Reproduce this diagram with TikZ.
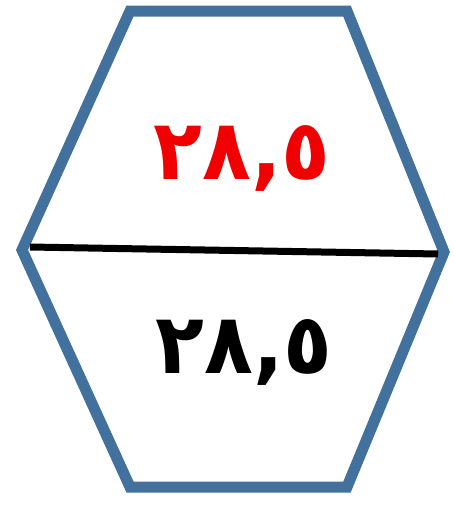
\documentclass[tikz,border=0pt]{standalone}
\usepackage{fontspec}
\newfontfamily\arabicfont[Script=Arabic]{DejaVu Sans}
\TeXXeTstate=1
\definecolor{hexblue}{RGB}{65,113,156}
\definecolor{numred}{RGB}{240,0,0}
\begin{document}
\begin{tikzpicture}[x=1pt,y=-1pt,
  hexline/.style={draw=hexblue,line width=11pt,line join=miter},
  divider/.style={draw=black,line width=7pt},
  numtext/.style={font=\arabicfont\bfseries\fontsize{80}{90}\selectfont,inner sep=0pt,yscale=1.05}]
\useasboundingbox (0,0) rectangle (453,506);
\coordinate (tl) at (130,11);
\coordinate (tr) at (347,11);
\coordinate (r) at (444,252);
\coordinate (br) at (347,487);
\coordinate (bl) at (130,487);
\coordinate (l) at (22,250);
\draw[hexline] (tl) -- (tr) -- (r) -- (br) -- (bl) -- (l) -- cycle;
\coordinate (dl) at (30,247);
\coordinate (dr) at (438,254);
\draw[divider] (dl) -- (dr);
\node[numtext,text=numred] (top) at (242,158) {\beginR ٢٨,٥\endR};
\node[numtext,text=black] (bot) at (244,352) {\beginR ٢٨,٥\endR};
\end{tikzpicture}
\end{document}
